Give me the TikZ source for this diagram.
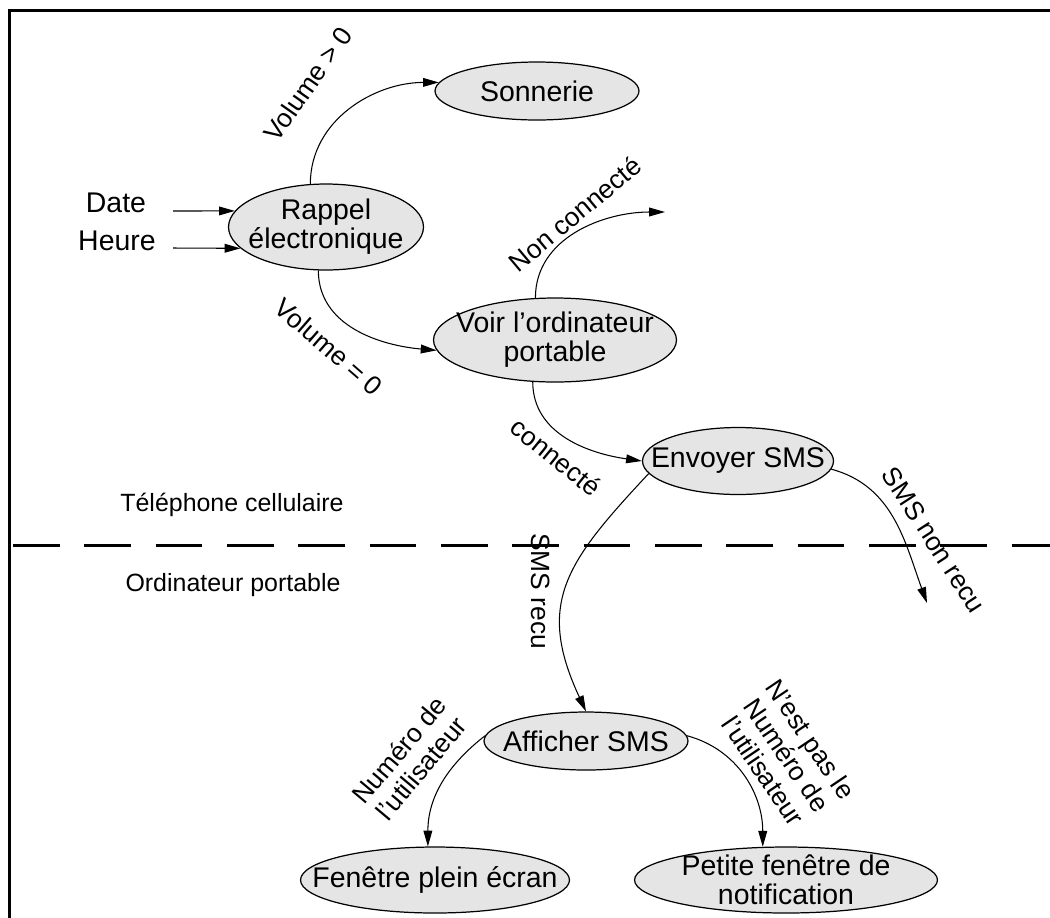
\documentclass[tikz,border=0pt]{standalone}
\usepackage{fontspec}
\setmainfont{Liberation Sans}
\usetikzlibrary{shapes.geometric,arrows.meta}

\begin{document}
\begin{tikzpicture}[x=0.02cm,y=0.02cm,
  font=\fontsize{16.2}{16.4}\selectfont,
  etat/.style={ellipse,draw,fill=gray!20,inner sep=0pt,line width=0.7pt},
  texte/.style={inner sep=0pt,align=center},
  fleche/.style={-{Triangle[length=9pt,width=5pt]},line width=0.6pt},
  etiq/.style={inner sep=0pt,align=center,font=\fontsize{15}{16.2}\selectfont},
  zone/.style={font=\fontsize{14.2}{16}\selectfont}]
\useasboundingbox (0,0) rectangle (1050,-917);
\draw[line width=1.8pt] (9.5,-940) -- (9.5,-10.5) -- (1070,-10.5);
\draw[line width=1.7pt,dash pattern=on 26.6pt off 14pt] (13,-545) -- (1060,-545);

\node[zone] at (232,-505) (tel) {Téléphone cellulaire};
\node[zone] at (233,-585) (ordi) {Ordinateur portable};

\node[etat,minimum width=4.08cm,minimum height=1.16cm,label={[texte]center:Sonnerie}] (sonnerie) at (537,-91) {};
\node[etat,minimum width=3.9cm,minimum height=1.72cm,label={[texte]center:Rappel\\électronique}] (rappel) at (326,-227) {};
\node[etat,minimum width=4.86cm,minimum height=1.68cm,label={[texte]center:Voir l’ordinateur\\portable}] (voir) at (555,-340) {};
\node[etat,minimum width=3.82cm,minimum height=1.34cm,label={[texte]center:Envoyer SMS}] (envoyer) at (738,-461) {};
\node[etat,minimum width=4.08cm,minimum height=1.16cm,label={[texte]center:Afficher SMS}] (afficher) at (586,-741) {};
\node[etat,minimum width=5.38cm,minimum height=1.32cm,label={[texte]center:Fenêtre plein écran}] (fenetre) at (435,-880) {};
\node[etat,minimum width=6.06cm,minimum height=1.32cm,label={[texte]center:Petite fenêtre de\\notification}] (petite) at (786,-880) {};

\node at (116,-203) (date) {Date};
\node at (117,-241) (heure) {Heure};
\coordinate (datefin) at (173,-211);
\coordinate (heurefin) at (173,-248);
\coordinate (nonco) at (665,-212);
\coordinate (nonrecu) at (927,-603);

\draw[fleche] (datefin) -- (rappel.170);
\draw[fleche] (heurefin) -- (rappel.194);
\draw[fleche] (rappel.110) to[out=90,in=180] (sonnerie.175);
\draw[fleche] (rappel.-100) to[out=-90,in=175] (voir.185);
\draw[fleche] (voir.115) to[out=90,in=180] (nonco);
\draw[fleche] (voir.-118) to[out=-90,in=172] (envoyer.west);
\draw[fleche] (envoyer.188) to[out=-133,in=115,looseness=1.25] (afficher.north);
\draw[fleche] (envoyer.-5) to[out=-15,in=110] (nonrecu);
\draw[fleche] (afficher.177) to[out=-142,in=90] (fenetre.102);
\draw[fleche] (afficher.3) to[out=-15,in=90] (petite.125);

\node[etiq,rotate=55] at (308,-84) (vsup) {Volume > 0};
\node[etiq,rotate=-41] at (329,-347) (vnul) {Volume = 0};
\node[etiq,rotate=40] at (575,-214) (lnonco) {Non connecté};
\node[etiq,rotate=-39] at (556,-457) (lco) {connecté};
\node[etiq,rotate=-90] at (541,-591) (lrecu) {SMS recu};
\node[etiq,rotate=-57] at (934,-540) (lnonrecu) {SMS non recu};
\node[etiq,rotate=50] at (410,-759) (lnum) {Numéro de\\l'utilisateur};
\node[etiq,rotate=-56] at (787,-755) (lpasnum) {N'est pas le\\Numéro de\\l'utilisateur};
\end{tikzpicture}
\end{document}
